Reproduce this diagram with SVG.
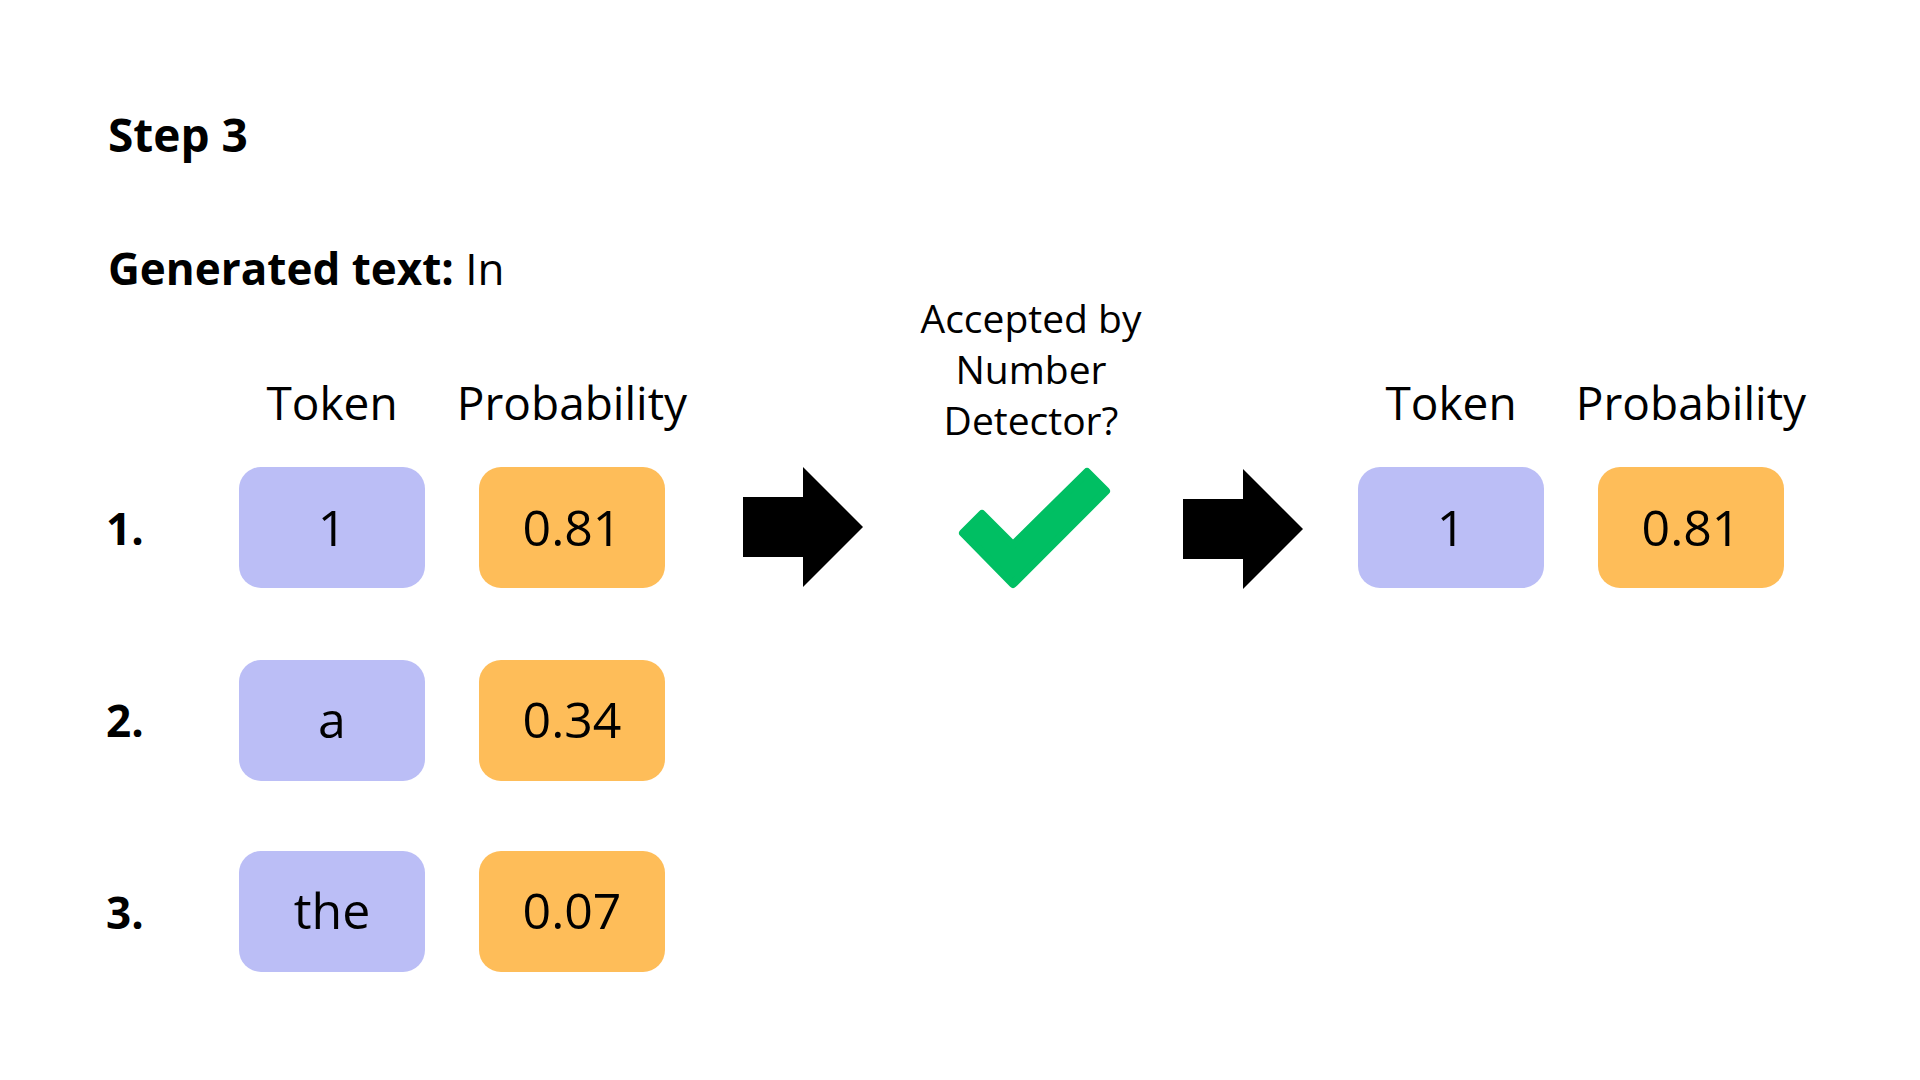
<svg xmlns="http://www.w3.org/2000/svg" width="1920" height="1080" viewBox="0 0 1920 1080">
<style>
text { font-family: "Open Sans", "Noto Sans", "Liberation Sans", sans-serif; fill: #000; }
.title { font-size: 46px; font-weight: 700; }
.head { font-size: 46px; font-weight: 400; text-anchor: middle; }
.num { font-size: 44px; font-weight: 700; }
.val { font-size: 50px; font-weight: 400; text-anchor: middle; }
.q { font-size: 39px; font-weight: 400; text-anchor: middle; }
.tok { fill: #BBBEF6; }
.prob { fill: #FEBD59; }
.arrow { fill: #000; }
</style>
<rect width="1920" height="1080" fill="#fff"/>
<g id="title">
<text class="title" x="108" y="152">Step 3</text>
<text class="title" x="108" y="285" style="font-size:44px">Generated text:<tspan style="font-weight:400"> In</tspan></text>
</g>
<g id="headers-left">
<text class="head" x="332" y="420">Token</text>
<text class="head" x="572" y="420">Probability</text>
</g>
<g id="row-labels">
<text class="num" x="106" y="545">1.</text>
<text class="num" x="106" y="737">2.</text>
<text class="num" x="106" y="929">3.</text>
</g>
<g id="token-1"><rect class="tok" x="239" y="467" width="186" height="121" rx="22"/><text class="val" x="332" y="546">1</text></g>
<g id="prob-1"><rect class="prob" x="479" y="467" width="186" height="121" rx="22"/><text class="val" x="572" y="546">0.81</text></g>
<g id="token-2"><rect class="tok" x="239" y="660" width="186" height="121" rx="22"/><text class="val" x="332" y="738">a</text></g>
<g id="prob-2"><rect class="prob" x="479" y="660" width="186" height="121" rx="22"/><text class="val" x="572" y="738">0.34</text></g>
<g id="token-3"><rect class="tok" x="239" y="851" width="186" height="121" rx="22"/><text class="val" x="332" y="929">the</text></g>
<g id="prob-3"><rect class="prob" x="479" y="851" width="186" height="121" rx="22"/><text class="val" x="572" y="929">0.07</text></g>
<g id="detector">
<text class="q" x="1031" y="333">Accepted by</text>
<text class="q" x="1031" y="384">Number</text>
<text class="q" x="1031" y="435">Detector?</text>
<polygon points="963,533 982,514 1013,545 1087,472 1106,491 1013,584" fill="#00BF63" stroke="#00BF63" stroke-width="8" stroke-linejoin="round"/>
</g>
<g id="headers-right">
<text class="head" x="1451" y="420">Token</text>
<text class="head" x="1691" y="420">Probability</text>
</g>
<g id="token-out"><rect class="tok" x="1358" y="467" width="186" height="121" rx="22"/><text class="val" x="1451" y="546">1</text></g>
<g id="prob-out"><rect class="prob" x="1598" y="467" width="186" height="121" rx="22"/><text class="val" x="1691" y="546">0.81</text></g>
<g id="connectors">
<polygon class="arrow" points="743,497 803,497 803,467 863,527 803,587 803,557 743,557"/>
<polygon class="arrow" points="1183,499 1243,499 1243,469 1303,529 1243,589 1243,559 1183,559"/>
</g>
</svg>
